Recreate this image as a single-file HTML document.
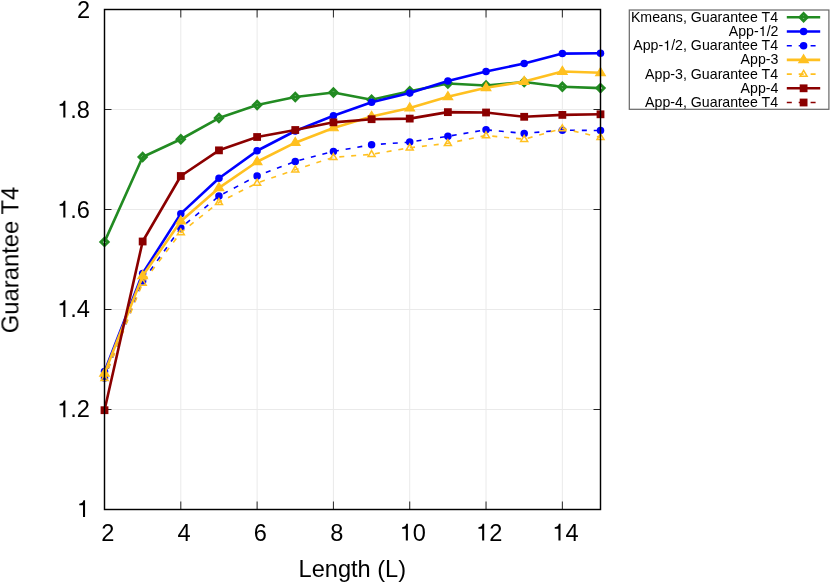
<!DOCTYPE html>
<html><head><meta charset="utf-8"><title>Guarantee T4 vs Length (L)</title>
<style>
html,body{margin:0;padding:0;background:#fff;}
body{width:830px;height:582px;overflow:hidden;position:relative;font-family:"Liberation Sans",sans-serif;}
svg text{font-family:"Liberation Sans",sans-serif;}
</style></head><body>
<svg width="830" height="582" viewBox="0 0 830 582" style="position:absolute;left:0;top:0">
<rect x="0" y="0" width="830" height="582" fill="#ffffff"/>
<g stroke="#eaeaea" stroke-width="1" fill="none"><line x1="180.81" y1="9.50" x2="180.81" y2="509.50"/><line x1="257.12" y1="9.50" x2="257.12" y2="509.50"/><line x1="333.42" y1="9.50" x2="333.42" y2="509.50"/><line x1="409.73" y1="9.50" x2="409.73" y2="509.50"/><line x1="486.04" y1="9.50" x2="486.04" y2="509.50"/><line x1="562.35" y1="9.50" x2="562.35" y2="509.50"/><line x1="104.50" y1="409.50" x2="600.50" y2="409.50"/><line x1="104.50" y1="309.50" x2="600.50" y2="309.50"/><line x1="104.50" y1="209.50" x2="600.50" y2="209.50"/><line x1="104.50" y1="109.50" x2="600.50" y2="109.50"/></g>
<g stroke="#000" stroke-width="0.85" fill="none"><line x1="104.50" y1="509.50" x2="104.50" y2="501.50"/><line x1="104.50" y1="9.50" x2="104.50" y2="17.50"/><line x1="180.81" y1="509.50" x2="180.81" y2="501.50"/><line x1="180.81" y1="9.50" x2="180.81" y2="17.50"/><line x1="257.12" y1="509.50" x2="257.12" y2="501.50"/><line x1="257.12" y1="9.50" x2="257.12" y2="17.50"/><line x1="333.42" y1="509.50" x2="333.42" y2="501.50"/><line x1="333.42" y1="9.50" x2="333.42" y2="17.50"/><line x1="409.73" y1="509.50" x2="409.73" y2="501.50"/><line x1="409.73" y1="9.50" x2="409.73" y2="17.50"/><line x1="486.04" y1="509.50" x2="486.04" y2="501.50"/><line x1="486.04" y1="9.50" x2="486.04" y2="17.50"/><line x1="562.35" y1="509.50" x2="562.35" y2="501.50"/><line x1="562.35" y1="9.50" x2="562.35" y2="17.50"/><line x1="104.50" y1="509.50" x2="111.50" y2="509.50"/><line x1="600.50" y1="509.50" x2="593.50" y2="509.50"/><line x1="104.50" y1="409.50" x2="111.50" y2="409.50"/><line x1="600.50" y1="409.50" x2="593.50" y2="409.50"/><line x1="104.50" y1="309.50" x2="111.50" y2="309.50"/><line x1="600.50" y1="309.50" x2="593.50" y2="309.50"/><line x1="104.50" y1="209.50" x2="111.50" y2="209.50"/><line x1="600.50" y1="209.50" x2="593.50" y2="209.50"/><line x1="104.50" y1="109.50" x2="111.50" y2="109.50"/><line x1="600.50" y1="109.50" x2="593.50" y2="109.50"/><line x1="104.50" y1="9.50" x2="111.50" y2="9.50"/><line x1="600.50" y1="9.50" x2="593.50" y2="9.50"/></g>
<polyline points="104.50,241.90 142.65,157.00 180.81,139.25 218.96,118.05 257.12,105.05 295.27,97.00 333.42,92.50 371.58,99.70 409.73,91.30 447.88,83.55 486.04,85.50 524.19,82.05 562.35,86.70 600.50,88.10" fill="none" stroke="#228B22" stroke-width="2.60" stroke-linejoin="round"/><path d="M104.50 238.20 L108.20 241.90 L104.50 245.60 L100.80 241.90 Z" fill="none" stroke="#228B22" stroke-width="2.8" stroke-linejoin="miter"/><path d="M142.65 153.30 L146.35 157.00 L142.65 160.70 L138.95 157.00 Z" fill="none" stroke="#228B22" stroke-width="2.8" stroke-linejoin="miter"/><path d="M180.81 135.55 L184.51 139.25 L180.81 142.95 L177.11 139.25 Z" fill="none" stroke="#228B22" stroke-width="2.8" stroke-linejoin="miter"/><path d="M218.96 114.35 L222.66 118.05 L218.96 121.75 L215.26 118.05 Z" fill="none" stroke="#228B22" stroke-width="2.8" stroke-linejoin="miter"/><path d="M257.12 101.35 L260.82 105.05 L257.12 108.75 L253.42 105.05 Z" fill="none" stroke="#228B22" stroke-width="2.8" stroke-linejoin="miter"/><path d="M295.27 93.30 L298.97 97.00 L295.27 100.70 L291.57 97.00 Z" fill="none" stroke="#228B22" stroke-width="2.8" stroke-linejoin="miter"/><path d="M333.42 88.80 L337.12 92.50 L333.42 96.20 L329.72 92.50 Z" fill="none" stroke="#228B22" stroke-width="2.8" stroke-linejoin="miter"/><path d="M371.58 96.00 L375.28 99.70 L371.58 103.40 L367.88 99.70 Z" fill="none" stroke="#228B22" stroke-width="2.8" stroke-linejoin="miter"/><path d="M409.73 87.60 L413.43 91.30 L409.73 95.00 L406.03 91.30 Z" fill="none" stroke="#228B22" stroke-width="2.8" stroke-linejoin="miter"/><path d="M447.88 79.85 L451.58 83.55 L447.88 87.25 L444.18 83.55 Z" fill="none" stroke="#228B22" stroke-width="2.8" stroke-linejoin="miter"/><path d="M486.04 81.80 L489.74 85.50 L486.04 89.20 L482.34 85.50 Z" fill="none" stroke="#228B22" stroke-width="2.8" stroke-linejoin="miter"/><path d="M524.19 78.35 L527.89 82.05 L524.19 85.75 L520.49 82.05 Z" fill="none" stroke="#228B22" stroke-width="2.8" stroke-linejoin="miter"/><path d="M562.35 83.00 L566.05 86.70 L562.35 90.40 L558.65 86.70 Z" fill="none" stroke="#228B22" stroke-width="2.8" stroke-linejoin="miter"/><path d="M600.50 84.40 L604.20 88.10 L600.50 91.80 L596.80 88.10 Z" fill="none" stroke="#228B22" stroke-width="2.8" stroke-linejoin="miter"/>
<polyline points="104.50,371.60 142.65,273.50 180.81,213.65 218.96,178.30 257.12,150.75 295.27,131.00 333.42,115.80 371.58,102.30 409.73,92.90 447.88,81.10 486.04,71.50 524.19,63.55 562.35,53.60 600.50,53.25" fill="none" stroke="#0000FF" stroke-width="2.60" stroke-linejoin="round"/><circle cx="104.50" cy="371.60" r="3.75" fill="#0000FF"/><circle cx="142.65" cy="273.50" r="3.75" fill="#0000FF"/><circle cx="180.81" cy="213.65" r="3.75" fill="#0000FF"/><circle cx="218.96" cy="178.30" r="3.75" fill="#0000FF"/><circle cx="257.12" cy="150.75" r="3.75" fill="#0000FF"/><circle cx="295.27" cy="131.00" r="3.75" fill="#0000FF"/><circle cx="333.42" cy="115.80" r="3.75" fill="#0000FF"/><circle cx="371.58" cy="102.30" r="3.75" fill="#0000FF"/><circle cx="409.73" cy="92.90" r="3.75" fill="#0000FF"/><circle cx="447.88" cy="81.10" r="3.75" fill="#0000FF"/><circle cx="486.04" cy="71.50" r="3.75" fill="#0000FF"/><circle cx="524.19" cy="63.55" r="3.75" fill="#0000FF"/><circle cx="562.35" cy="53.60" r="3.75" fill="#0000FF"/><circle cx="600.50" cy="53.25" r="3.75" fill="#0000FF"/>
<polyline points="104.50,378.00 142.65,281.10 180.81,227.90 218.96,196.00 257.12,175.90 295.27,161.40 333.42,151.40 371.58,144.80 409.73,142.10 447.88,136.30 486.04,129.80 524.19,133.40 562.35,130.20 600.50,130.50" fill="none" stroke="#0000FF" stroke-width="1.60" stroke-linejoin="round" stroke-dasharray="5 6.9" stroke-dashoffset="1.9"/><circle cx="104.50" cy="378.00" r="3.75" fill="#0000FF"/><circle cx="142.65" cy="281.10" r="3.75" fill="#0000FF"/><circle cx="180.81" cy="227.90" r="3.75" fill="#0000FF"/><circle cx="218.96" cy="196.00" r="3.75" fill="#0000FF"/><circle cx="257.12" cy="175.90" r="3.75" fill="#0000FF"/><circle cx="295.27" cy="161.40" r="3.75" fill="#0000FF"/><circle cx="333.42" cy="151.40" r="3.75" fill="#0000FF"/><circle cx="371.58" cy="144.80" r="3.75" fill="#0000FF"/><circle cx="409.73" cy="142.10" r="3.75" fill="#0000FF"/><circle cx="447.88" cy="136.30" r="3.75" fill="#0000FF"/><circle cx="486.04" cy="129.80" r="3.75" fill="#0000FF"/><circle cx="524.19" cy="133.40" r="3.75" fill="#0000FF"/><circle cx="562.35" cy="130.20" r="3.75" fill="#0000FF"/><circle cx="600.50" cy="130.50" r="3.75" fill="#0000FF"/>
<polyline points="104.50,373.40 142.65,275.80 180.81,221.20 218.96,187.90 257.12,161.75 295.27,142.70 333.42,127.95 371.58,116.60 409.73,108.10 447.88,96.85 486.04,87.80 524.19,81.60 562.35,71.50 600.50,72.75" fill="none" stroke="#FFC020" stroke-width="2.60" stroke-linejoin="round"/><path d="M104.50 368.20 L109.30 376.20 L99.70 376.20 Z" fill="#FFC020" stroke="#FFC020" stroke-width="1.2" stroke-linejoin="miter"/><path d="M142.65 270.60 L147.45 278.60 L137.85 278.60 Z" fill="#FFC020" stroke="#FFC020" stroke-width="1.2" stroke-linejoin="miter"/><path d="M180.81 216.00 L185.61 224.00 L176.01 224.00 Z" fill="#FFC020" stroke="#FFC020" stroke-width="1.2" stroke-linejoin="miter"/><path d="M218.96 182.70 L223.76 190.70 L214.16 190.70 Z" fill="#FFC020" stroke="#FFC020" stroke-width="1.2" stroke-linejoin="miter"/><path d="M257.12 156.55 L261.92 164.55 L252.32 164.55 Z" fill="#FFC020" stroke="#FFC020" stroke-width="1.2" stroke-linejoin="miter"/><path d="M295.27 137.50 L300.07 145.50 L290.47 145.50 Z" fill="#FFC020" stroke="#FFC020" stroke-width="1.2" stroke-linejoin="miter"/><path d="M333.42 122.75 L338.22 130.75 L328.62 130.75 Z" fill="#FFC020" stroke="#FFC020" stroke-width="1.2" stroke-linejoin="miter"/><path d="M371.58 111.40 L376.38 119.40 L366.78 119.40 Z" fill="#FFC020" stroke="#FFC020" stroke-width="1.2" stroke-linejoin="miter"/><path d="M409.73 102.90 L414.53 110.90 L404.93 110.90 Z" fill="#FFC020" stroke="#FFC020" stroke-width="1.2" stroke-linejoin="miter"/><path d="M447.88 91.65 L452.68 99.65 L443.08 99.65 Z" fill="#FFC020" stroke="#FFC020" stroke-width="1.2" stroke-linejoin="miter"/><path d="M486.04 82.60 L490.84 90.60 L481.24 90.60 Z" fill="#FFC020" stroke="#FFC020" stroke-width="1.2" stroke-linejoin="miter"/><path d="M524.19 76.40 L528.99 84.40 L519.39 84.40 Z" fill="#FFC020" stroke="#FFC020" stroke-width="1.2" stroke-linejoin="miter"/><path d="M562.35 66.30 L567.15 74.30 L557.55 74.30 Z" fill="#FFC020" stroke="#FFC020" stroke-width="1.2" stroke-linejoin="miter"/><path d="M600.50 67.55 L605.30 75.55 L595.70 75.55 Z" fill="#FFC020" stroke="#FFC020" stroke-width="1.2" stroke-linejoin="miter"/>
<polyline points="104.50,378.30 142.65,282.90 180.81,232.60 218.96,202.30 257.12,183.00 295.27,169.70 333.42,157.30 371.58,154.30 409.73,147.80 447.88,143.25 486.04,135.50 524.19,139.20 562.35,128.50 600.50,137.30" fill="none" stroke="#FFC020" stroke-width="1.60" stroke-linejoin="round" stroke-dasharray="5 6.9" stroke-dashoffset="1.3"/><path d="M104.50 374.60 L108.00 380.55 L101.00 380.55 Z" fill="none" stroke="#FFC020" stroke-width="1.5" stroke-linejoin="miter"/><path d="M142.65 279.20 L146.15 285.15 L139.15 285.15 Z" fill="none" stroke="#FFC020" stroke-width="1.5" stroke-linejoin="miter"/><path d="M180.81 228.90 L184.31 234.85 L177.31 234.85 Z" fill="none" stroke="#FFC020" stroke-width="1.5" stroke-linejoin="miter"/><path d="M218.96 198.60 L222.46 204.55 L215.46 204.55 Z" fill="none" stroke="#FFC020" stroke-width="1.5" stroke-linejoin="miter"/><path d="M257.12 179.30 L260.62 185.25 L253.62 185.25 Z" fill="none" stroke="#FFC020" stroke-width="1.5" stroke-linejoin="miter"/><path d="M295.27 166.00 L298.77 171.95 L291.77 171.95 Z" fill="none" stroke="#FFC020" stroke-width="1.5" stroke-linejoin="miter"/><path d="M333.42 153.60 L336.92 159.55 L329.92 159.55 Z" fill="none" stroke="#FFC020" stroke-width="1.5" stroke-linejoin="miter"/><path d="M371.58 150.60 L375.08 156.55 L368.08 156.55 Z" fill="none" stroke="#FFC020" stroke-width="1.5" stroke-linejoin="miter"/><path d="M409.73 144.10 L413.23 150.05 L406.23 150.05 Z" fill="none" stroke="#FFC020" stroke-width="1.5" stroke-linejoin="miter"/><path d="M447.88 139.55 L451.38 145.50 L444.38 145.50 Z" fill="none" stroke="#FFC020" stroke-width="1.5" stroke-linejoin="miter"/><path d="M486.04 131.80 L489.54 137.75 L482.54 137.75 Z" fill="none" stroke="#FFC020" stroke-width="1.5" stroke-linejoin="miter"/><path d="M524.19 135.50 L527.69 141.45 L520.69 141.45 Z" fill="none" stroke="#FFC020" stroke-width="1.5" stroke-linejoin="miter"/><path d="M562.35 124.80 L565.85 130.75 L558.85 130.75 Z" fill="none" stroke="#FFC020" stroke-width="1.5" stroke-linejoin="miter"/><path d="M600.50 133.60 L604.00 139.55 L597.00 139.55 Z" fill="none" stroke="#FFC020" stroke-width="1.5" stroke-linejoin="miter"/>
<polyline points="104.50,410.20 142.65,241.50 180.81,176.00 218.96,150.35 257.12,137.00 295.27,130.00 333.42,122.35 371.58,119.20 409.73,118.60 447.88,112.15 486.04,112.50 524.19,116.80 562.35,114.90 600.50,114.30" fill="none" stroke="#8B0000" stroke-width="2.60" stroke-linejoin="round"/><rect x="100.60" y="406.30" width="7.80" height="7.80" fill="#8B0000"/><rect x="138.75" y="237.60" width="7.80" height="7.80" fill="#8B0000"/><rect x="176.91" y="172.10" width="7.80" height="7.80" fill="#8B0000"/><rect x="215.06" y="146.45" width="7.80" height="7.80" fill="#8B0000"/><rect x="253.22" y="133.10" width="7.80" height="7.80" fill="#8B0000"/><rect x="291.37" y="126.10" width="7.80" height="7.80" fill="#8B0000"/><rect x="329.52" y="118.45" width="7.80" height="7.80" fill="#8B0000"/><rect x="367.68" y="115.30" width="7.80" height="7.80" fill="#8B0000"/><rect x="405.83" y="114.70" width="7.80" height="7.80" fill="#8B0000"/><rect x="443.98" y="108.25" width="7.80" height="7.80" fill="#8B0000"/><rect x="482.14" y="108.60" width="7.80" height="7.80" fill="#8B0000"/><rect x="520.29" y="112.90" width="7.80" height="7.80" fill="#8B0000"/><rect x="558.45" y="111.00" width="7.80" height="7.80" fill="#8B0000"/><rect x="596.60" y="110.40" width="7.80" height="7.80" fill="#8B0000"/>
<rect x="104.50" y="9.50" width="496.00" height="500.00" fill="none" stroke="#000" stroke-width="1.45"/>
<g font-family="'Liberation Sans', sans-serif" font-size="23.6px" fill="#000" style="filter:grayscale(1)"><path transform="translate(76.88,516.96) scale(0.02360,-0.02360)" d="M259 0L259 501L102 501L102 564C221 579 251 600 280 709L347 709L347 0Z"/><path transform="translate(57.20,417.20) scale(0.02360,-0.02360)" d="M259 0L259 501L102 501L102 564C221 579 251 600 280 709L347 709L347 0Z"/><text x="70.32" y="417.20" xml:space="preserve">.2</text><path transform="translate(57.20,317.10) scale(0.02360,-0.02360)" d="M259 0L259 501L102 501L102 564C221 579 251 600 280 709L347 709L347 0Z"/><text x="70.32" y="317.10" xml:space="preserve">.4</text><path transform="translate(57.20,217.60) scale(0.02360,-0.02360)" d="M259 0L259 501L102 501L102 564C221 579 251 600 280 709L347 709L347 0Z"/><text x="70.32" y="217.60" xml:space="preserve">.6</text><path transform="translate(57.20,117.60) scale(0.02360,-0.02360)" d="M259 0L259 501L102 501L102 564C221 579 251 600 280 709L347 709L347 0Z"/><text x="70.32" y="117.60" xml:space="preserve">.8</text><text x="76.88" y="17.97" xml:space="preserve">2</text><text x="101.24" y="540.50" xml:space="preserve">2</text><text x="177.55" y="540.50" xml:space="preserve">4</text><text x="253.85" y="540.50" xml:space="preserve">6</text><text x="330.16" y="540.50" xml:space="preserve">8</text><path transform="translate(399.71,540.50) scale(0.02360,-0.02360)" d="M259 0L259 501L102 501L102 564C221 579 251 600 280 709L347 709L347 0Z"/><text x="412.83" y="540.50" xml:space="preserve">0</text><path transform="translate(476.02,540.50) scale(0.02360,-0.02360)" d="M259 0L259 501L102 501L102 564C221 579 251 600 280 709L347 709L347 0Z"/><text x="489.14" y="540.50" xml:space="preserve">2</text><path transform="translate(552.32,540.50) scale(0.02360,-0.02360)" d="M259 0L259 501L102 501L102 564C221 579 251 600 280 709L347 709L347 0Z"/><text x="565.45" y="540.50" xml:space="preserve">4</text><text x="352.3" y="576.6" text-anchor="middle">Length (L)</text><text transform="translate(18.4,260) rotate(-90)" text-anchor="middle" font-size="23.8px">Guarantee T4</text></g>
<rect x="629.30" y="10.00" width="199.60" height="99.30" fill="none" stroke="#000" stroke-opacity="0.6" stroke-width="1.2"/>
<line x1="786.8" y1="17.30" x2="820.2" y2="17.30" stroke="#228B22" stroke-width="2.60"/>
<path d="M803.60 13.60 L807.30 17.30 L803.60 21.00 L799.90 17.30 Z" fill="none" stroke="#228B22" stroke-width="2.8" stroke-linejoin="miter"/>
<line x1="786.8" y1="31.50" x2="820.2" y2="31.50" stroke="#0000FF" stroke-width="2.60"/>
<circle cx="803.60" cy="31.50" r="3.75" fill="#0000FF"/>
<line x1="786.8" y1="45.70" x2="820.2" y2="45.70" stroke="#0000FF" stroke-width="1.60" stroke-dasharray="5 6.9"/>
<circle cx="803.60" cy="45.70" r="3.75" fill="#0000FF"/>
<line x1="786.8" y1="59.90" x2="820.2" y2="59.90" stroke="#FFC020" stroke-width="2.60"/>
<path d="M803.60 54.70 L808.40 62.70 L798.80 62.70 Z" fill="#FFC020" stroke="#FFC020" stroke-width="1.2" stroke-linejoin="miter"/>
<line x1="786.8" y1="74.10" x2="820.2" y2="74.10" stroke="#FFC020" stroke-width="1.60" stroke-dasharray="5 6.9"/>
<path d="M803.60 70.40 L807.10 76.35 L800.10 76.35 Z" fill="none" stroke="#FFC020" stroke-width="1.5" stroke-linejoin="miter"/>
<line x1="786.8" y1="88.30" x2="820.2" y2="88.30" stroke="#8B0000" stroke-width="2.60"/>
<rect x="799.70" y="84.40" width="7.80" height="7.80" fill="#8B0000"/>
<line x1="786.8" y1="102.50" x2="820.2" y2="102.50" stroke="#8B0000" stroke-width="1.60" stroke-dasharray="5 6.9"/>
<rect x="799.70" y="98.60" width="7.80" height="7.80" fill="#8B0000"/>
<g font-family="'Liberation Sans', sans-serif" font-size="14.2px" fill="#000" style="filter:grayscale(1)"><text transform="translate(630.91,21.75) scale(1,0.970)" xml:space="preserve">Kmeans, Guarantee T4</text><text transform="translate(728.77,35.95) scale(1,0.970)" xml:space="preserve">App-</text><path transform="translate(758.76,35.95) scale(0.01420,-0.01377)" d="M259 0L259 501L102 501L102 564C221 579 251 600 280 709L347 709L347 0Z"/><text transform="translate(766.66,35.95) scale(1,0.970)" xml:space="preserve">/2</text><text transform="translate(633.26,50.15) scale(1,0.970)" xml:space="preserve">App-</text><path transform="translate(663.25,50.15) scale(0.01420,-0.01377)" d="M259 0L259 501L102 501L102 564C221 579 251 600 280 709L347 709L347 0Z"/><text transform="translate(671.15,50.15) scale(1,0.970)" xml:space="preserve">/2, Guarantee T4</text><text transform="translate(740.61,64.35) scale(1,0.970)" xml:space="preserve">App-3</text><text transform="translate(645.11,78.55) scale(1,0.970)" xml:space="preserve">App-3, Guarantee T4</text><text transform="translate(740.61,92.75) scale(1,0.970)" xml:space="preserve">App-4</text><text transform="translate(645.11,106.95) scale(1,0.970)" xml:space="preserve">App-4, Guarantee T4</text></g>
</svg>
</body></html>
